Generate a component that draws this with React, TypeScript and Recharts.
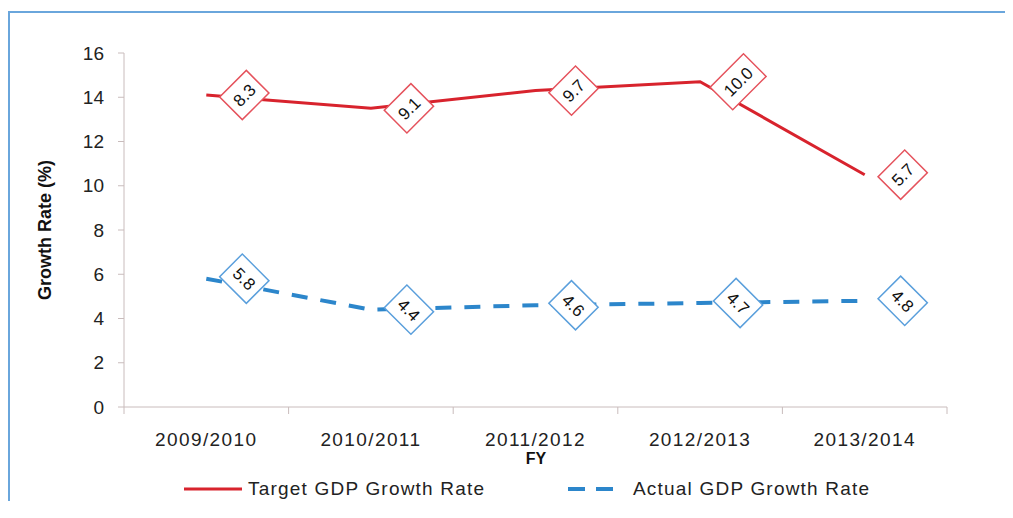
import { ComposedChart, Area, XAxis, YAxis, Legend, LabelList, Label } from 'recharts';

const years = ['2009/2010', '2010/2011', '2011/2012', '2012/2013', '2013/2014'];
const targetRate = [8.3, 9.1, 9.7, 10.0, 5.7];
const actualRate = [5.8, 4.4, 4.6, 4.7, 4.8];
const yTicks = [0, 2, 4, 6, 8, 10, 12, 14, 16];

const FONT = '"Liberation Sans", Arial, sans-serif';
const RED = '#d8232d';
const BLUE = '#2c86cb';
const AXIS = '#c9bcbc';
const FRAME = '#6aa6dc';

const W = 1005;
const H = 507;
const PLOT_LEFT = 116;
const PLOT_RIGHT = 66;
const PLOT_TOP = 42;
const X_AXIS_H = 60;
const PLOT_BOTTOM_Y = 396;
const BAND = (W - PLOT_LEFT - PLOT_RIGHT) / years.length;

const data = years.map((fy, i) => ({ fy, target: targetRate[i], actual: actualRate[i] }));

// ラベルは値の右側に、回転した白抜きの菱形として描く
const diamondLabel = (stroke: string, angle: number, values: number[]) => (props: any) => {
  const vb = props.viewBox || {};
  const x = props.x ?? vb.x;
  const y = props.y ?? vb.y;
  if (x == null || y == null) return null;
  const v = typeof props.value === 'number' ? props.value : values[props.index];
  const text = Number(v).toFixed(1);
  const w = text.replace('.', '').length * 9.5 + 4.7 + 14;
  const h = 32;
  return (
    <g transform={`translate(${x + 38},${y}) rotate(${angle})`}>
      <rect x={-w / 2} y={-h / 2} width={w} height={h} fill="#fff" stroke={stroke} strokeWidth={1.5} />
      <text x={0} y={0} dy="0.36em" textAnchor="middle" fontSize={17} fontFamily={FONT} fill="#111">
        {text}
      </text>
    </g>
  );
};

const XTick = (props: any) => {
  const { x, y, payload, index } = props;
  return (
    <g>
      {index === 0 && <line x1={x - BAND / 2} x2={x - BAND / 2} y1={y} y2={y + 7} stroke={AXIS} />}
      <line x1={x + BAND / 2} x2={x + BAND / 2} y1={y} y2={y + 7} stroke={AXIS} />
      <text x={x} y={y + 32} dy="0.35em" textAnchor="middle" fontSize={19} letterSpacing={1.4} fontFamily={FONT} fill="#222">
        {payload.value}
      </text>
    </g>
  );
};

const LegendBox = () => (
  <div style={{ position: 'relative', height: 24, fontFamily: FONT, fontSize: 19, color: '#222', letterSpacing: 1.2 }}>
    <svg width={W} height={24} style={{ position: 'absolute', left: 0, top: 0 }}>
      <line x1={176} x2={234} y1={12} y2={12} stroke={RED} strokeWidth={3} />
      <line x1={560} x2={605} y1={12} y2={12} stroke={BLUE} strokeWidth={4} strokeDasharray="17 11" />
    </svg>
    <span style={{ position: 'absolute', left: 240, top: 1, whiteSpace: 'nowrap' }}>Target GDP Growth Rate</span>
    <span style={{ position: 'absolute', left: 625, top: 1, whiteSpace: 'nowrap' }}>Actual GDP Growth Rate</span>
  </div>
);

export default function App() {
  return (
    <div
      style={{
        position: 'relative',
        top: 3,
        width: W,
        height: H,
        marginBottom: -14,
        overflow: 'hidden',
        background: '#fff',
      }}
    >
      <div style={{ position: 'absolute', left: 0, top: 0 }}>
        <ComposedChart
          width={W}
          height={H}
          data={data}
          margin={{ top: PLOT_TOP, right: PLOT_RIGHT, left: 0, bottom: H - PLOT_BOTTOM_Y - X_AXIS_H }}
        >
          <XAxis
            dataKey="fy"
            scale="band"
            interval={0}
            height={X_AXIS_H}
            tickLine={false}
            tickSize={0}
            tickMargin={0}
            axisLine={{ stroke: AXIS }}
            tick={<XTick />}
          >
            <Label
              content={() => (
                <text x={528} y={447} dy="0.35em" textAnchor="middle" fontSize={16} fontWeight="bold" fontFamily={FONT} fill="#111">
                  FY
                </text>
              )}
            />
          </XAxis>
          <YAxis
            domain={[0, 16]}
            ticks={yTicks}
            width={PLOT_LEFT}
            tickSize={6}
            tickMargin={14}
            axisLine={{ stroke: AXIS }}
            tickLine={{ stroke: AXIS }}
            tick={{ fontSize: 19, fill: '#222', fontFamily: FONT }}
          >
            <Label
              content={() => (
                <text
                  x={37}
                  y={219}
                  dy="0.35em"
                  transform="rotate(-90 37 219)"
                  textAnchor="middle"
                  fontSize={18}
                  fontWeight="bold"
                  fontFamily={FONT}
                  fill="#111"
                >
                  Growth Rate (%)
                </text>
              )}
            />
          </YAxis>
          <Legend
            layout="horizontal"
            verticalAlign="middle"
            align="center"
            wrapperStyle={{ top: 466, left: 0, width: W }}
            content={() => <LegendBox />}
          />
          <Area
            type="linear"
            dataKey="actual"
            stackId="gdp"
            stroke={BLUE}
            strokeWidth={4}
            strokeDasharray="16 13"
            fill="none"
            dot={false}
            activeDot={false}
            isAnimationActive={false}
          >
            <LabelList dataKey="actual" content={diamondLabel('#5a9fdc', 45, actualRate)} />
          </Area>
          <Area
            type="linear"
            dataKey="target"
            stackId="gdp"
            stroke={RED}
            strokeWidth={3}
            fill="none"
            dot={false}
            activeDot={false}
            isAnimationActive={false}
          >
            <LabelList dataKey="target" content={diamondLabel('#e5525c', -45, targetRate)} />
          </Area>
        </ComposedChart>
      </div>
      <div
        style={{
          position: 'absolute',
          left: 0,
          top: 0,
          right: 0,
          bottom: 0,
          borderTop: `2px solid ${FRAME}`,
          borderLeft: `2px solid ${FRAME}`,
          pointerEvents: 'none',
        }}
      />
    </div>
  );
}
